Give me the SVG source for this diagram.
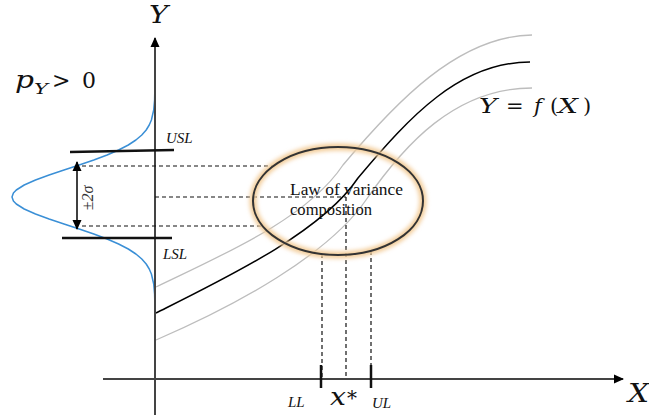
<svg xmlns="http://www.w3.org/2000/svg" width="649" height="416" viewBox="0 0 649 416">
<style>
.axis{stroke:#444;stroke-width:2;fill:none}
.dash{stroke:#111;stroke-width:1.2;stroke-dasharray:4 3;fill:none}
.gray{stroke:#bdbdbd;stroke-width:1.3;fill:none}
.main{stroke:#000;stroke-width:1.5;fill:none}
.lim{stroke:#111;stroke-width:2.5;fill:none}
.mi{font-family:"DejaVu Serif",serif;font-style:italic;fill:#111}
.mr{font-family:"DejaVu Serif",serif;fill:#111}
.tr{font-family:"Liberation Serif",serif;fill:#111}
.lbl{font-family:"Liberation Serif",serif;font-style:italic;font-size:15px;fill:#111}
</style>
<defs>
<marker id="ah" markerWidth="10" markerHeight="10" refX="9" refY="5" orient="auto" markerUnits="userSpaceOnUse">
<path d="M0,0.5 L10,5 L0,9.5 Z" fill="#000"/>
</marker>
<filter id="glow" x="-20%" y="-30%" width="140%" height="160%">
<feGaussianBlur stdDeviation="2.2"/>
</filter>
</defs>

<g id="curves">
<path class="gray" d="M156,287 C222,255 307,219 343,165 C395,103 458,36 532,35"/>
<path class="main" d="M156,313 C226,278 322,232 358,178 C410,116 460,62 530,62"/>
<path class="gray" d="M156,340 C237,305 328,255 366,200 C404,145 455,88 532,88"/>
</g>

<g id="distribution">
<polyline fill="none" stroke="#3a8fd6" stroke-width="1.5" stroke-linejoin="round" points="155,82 154.6,100 153.7,110 151.4,120 149.25,125 146.2,130 141.8,135 135.9,140 128.3,145 118.6,150 107.1,155 93.8,160 79.2,165 64,170 49.1,175 35.5,180 24.2,185 16.3,190 13.4,193 12,197 13.4,201 16.3,204 24.2,209 35.5,214 49.1,219 64,224 79.2,229 93.8,234 107.1,239 118.6,244 128.3,249 135.9,254 141.8,259 146.2,264 149.25,269 151.4,274 153.7,284 154.6,294 155,310"/>
</g>

<g id="axes">
<line class="axis" x1="155" y1="415" x2="155" y2="38" marker-end="url(#ah)"/>
<line class="axis" x1="103" y1="379" x2="623" y2="379" marker-end="url(#ah)"/>
</g>

<g id="connectors">
<line class="dash" x1="82" y1="166" x2="272" y2="166"/>
<line class="dash" x1="155" y1="197" x2="346" y2="197"/>
<line class="dash" x1="82" y1="226" x2="263" y2="226"/>
<line class="dash" x1="322" y1="254" x2="322" y2="379"/>
<line class="dash" x1="346" y1="197" x2="346" y2="379"/>
<line class="dash" x1="371" y1="251" x2="371" y2="379"/>
<line stroke="#000" stroke-width="1.5" x1="77" y1="197" x2="77" y2="162" marker-end="url(#ah)"/>
<line stroke="#000" stroke-width="1.5" x1="77" y1="197" x2="77" y2="229" marker-end="url(#ah)"/>
</g>

<g id="limits">
<line class="lim" x1="70" y1="152" x2="174" y2="150"/>
<line class="lim" x1="62" y1="238" x2="172" y2="238"/>
<line class="lim" x1="321" y1="365" x2="321" y2="388"/>
<line class="lim" x1="371" y1="365" x2="371" y2="388"/>
</g>

<g id="ellipse-node">
<ellipse cx="338" cy="201" rx="85" ry="54" fill="none" stroke="#f3cc98" stroke-width="7" filter="url(#glow)"/>
<ellipse cx="338" cy="201" rx="85" ry="54" fill="none" stroke="#333" stroke-width="2"/>
<text class="tr" x="290" y="195" font-size="17" textLength="113" lengthAdjust="spacingAndGlyphs">Law of variance</text>
<text class="tr" x="290" y="215" font-size="17" textLength="82" lengthAdjust="spacingAndGlyphs">composition</text>
</g>

<g id="labels">
<text class="mi" x="149" y="23" font-size="25" textLength="19" lengthAdjust="spacingAndGlyphs">Y</text>
<text class="mi" x="628" y="402" font-size="26" textLength="21" lengthAdjust="spacingAndGlyphs">X</text>
<text class="mi" x="15" y="88" font-size="24" textLength="19" lengthAdjust="spacingAndGlyphs">p</text>
<text class="mi" x="34" y="94" font-size="15" textLength="14" lengthAdjust="spacingAndGlyphs">Y</text>
<text class="mr" x="52" y="88" font-size="22">&gt;</text>
<text class="mr" x="82" y="88" font-size="22">0</text>
<text class="mi" x="479" y="113" font-size="21" textLength="18" lengthAdjust="spacingAndGlyphs">Y</text>
<text class="mr" x="506" y="113" font-size="21">=</text>
<text class="mi" x="534" y="113" font-size="21">f</text>
<text class="mr" x="550" y="113" font-size="21">(</text>
<text class="mi" x="558" y="113" font-size="21" textLength="20" lengthAdjust="spacingAndGlyphs">X</text>
<text class="mr" x="583" y="113" font-size="21">)</text>
<text class="lbl" x="166" y="143">USL</text>
<text class="lbl" x="163" y="259">LSL</text>
<text class="lbl" x="288" y="407">LL</text>
<text class="lbl" x="372" y="408">UL</text>
<text class="mi" x="330" y="405" font-size="25" textLength="16" lengthAdjust="spacingAndGlyphs">x</text>
<text class="mr" x="347" y="405" font-size="20">*</text>
<text x="0" y="0" font-size="16" fill="#333" font-family="Liberation Serif, serif" transform="translate(93,198) rotate(-90)" text-anchor="middle"><tspan>±</tspan><tspan font-style="italic">2σ</tspan></text>
</g>
</svg>
